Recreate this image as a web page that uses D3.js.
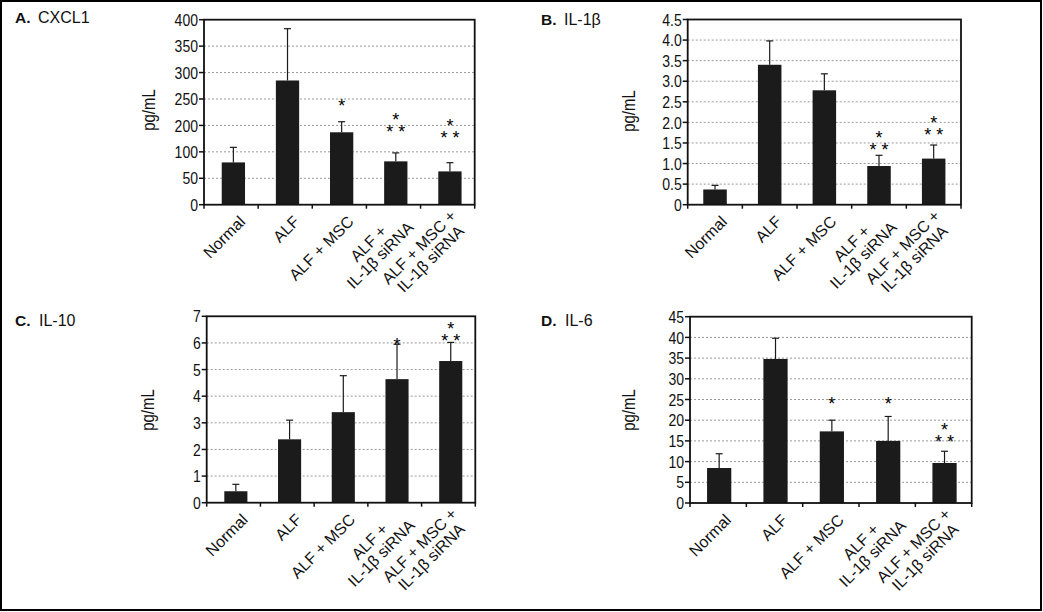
<!DOCTYPE html>
<html><head><meta charset="utf-8">
<script src="https://cdn.jsdelivr.net/npm/d3@7/dist/d3.min.js"></script>
<style>
body{margin:0;background:#fff;}
svg{display:block;font-family:"Liberation Sans",Arial,Helvetica,sans-serif;}
</style></head>
<body><svg id="c" width="1043" height="612"></svg>
<script>
// ---------- data ----------
const categories = [["Normal"],["ALF"],["ALF + MSC"],["ALF +","IL-1β siRNA"],["ALF + MSC +","IL-1β siRNA"]];

const cxcl1Mean = [80, 285, 174, 82, 63];
const cxcl1Err  = [37, 98, 33, 16, 16.5];
const cxcl1Ticks = [0, 50, 100, 200, 250, 300, 350, 400];
const cxcl1StarKind = [0, 0, 1, 2, 2];
const cxcl1StarLevel = [null, null, 245, 191, 166];

const il1bMean = [0.37, 3.40, 2.78, 0.94, 1.12];
const il1bErr  = [0.10, 0.58, 0.40, 0.26, 0.33];
const il1bTicks = [0, 0.5, 1.0, 1.5, 2.0, 2.5, 3.0, 3.5, 4.0, 4.5];
const il1bStarKind = [0, 0, 0, 2, 2];
const il1bStarLevel = [null, null, null, 1.43, 1.78];

const il10Mean = [0.43, 2.38, 3.40, 4.64, 5.32];
const il10Err  = [0.26, 0.72, 1.37, 1.31, 0.70];
const il10Ticks = [0, 1, 2, 3, 4, 5, 6, 7];
const il10StarKind = [0, 0, 0, 1, 2];
const il10StarLevel = [null, null, null, 6.09, 6.24];

const il6Mean = [8.45, 34.8, 17.3, 15.0, 9.66];
const il6Err  = [3.45, 5.0, 2.7, 5.9, 2.84];
const il6Ticks = [0, 5, 10, 15, 20, 25, 30, 35, 40, 45];
const il6StarKind = [0, 0, 1, 1, 2];
const il6StarLevel = [null, null, 24.9, 25.0, 15.6];

const panelLetters = ["A.", "B.", "C.", "D."];
const panelNames = ["CXCL1", "IL-1β", "IL-10", "IL-6"];
const yTitle = "pg/mL";

// ---------- drawing ----------
const svg = d3.select("#c");
svg.append("rect").attr("x",1).attr("y",1).attr("width",1040).attr("height",609)
  .attr("fill","none").attr("stroke","#000").attr("stroke-width",2);

const stepA = 185/7;
const panels = [
  {mean:cxcl1Mean, err:cxcl1Err, ticks:cxcl1Ticks, sk:cxcl1StarKind, sl:cxcl1StarLevel,
   L:204, R:474.7, T:19.7, B:204.7, off:2.3, fmt:d=>String(d),
   y:d3.scaleLinear().domain([0,100,200,400]).range([204.7,204.7-2*stepA,204.7-3*stepA,204.7-7*stepA]),
   title:[15,38,22.7], ylab:[150,110]},
  {mean:il1bMean, err:il1bErr, ticks:il1bTicks, sk:il1bStarKind, sl:il1bStarLevel,
   L:687.7, R:961, T:19.5, B:204.7, off:0, fmt:d=>d===0?"0":d3.format(".1f")(d),
   title:[541,564,25], ylab:[630,111]},
  {mean:il10Mean, err:il10Err, ticks:il10Ticks, sk:il10StarKind, sl:il10StarLevel,
   L:206.7, R:475.3, T:316.3, B:502.7, off:2.3, fmt:d=>String(d),
   title:[15,39,325.7], ylab:[149,410]},
  {mean:il6Mean, err:il6Err, ticks:il6Ticks, sk:il6StarKind, sl:il6StarLevel,
   L:690, R:971.7, T:316.7, B:503, off:1, fmt:d=>String(d),
   title:[541,565,325.7], ylab:[630,410]}
];

panels.forEach((p, pi) => {
  const g = svg.append("g");
  const y = p.y || d3.scaleLinear().domain([0, d3.max(p.ticks)]).range([p.B, p.T]);
  const x = d3.scaleBand().domain(d3.range(categories.length))
    .range([p.L + p.off, p.R + p.off]).paddingInner(0.57).paddingOuter(0.285);
  const xb = d3.scaleBand().domain(d3.range(categories.length)).range([p.L, p.R]);
  const top = d3.max(p.ticks);

  // grid
  g.selectAll(".grid").data(p.ticks.filter(t => t !== 0 && t !== top)).join("line")
    .attr("x1", p.L).attr("x2", p.R).attr("y1", d => y(d)).attr("y2", d => y(d))
    .attr("stroke", "#9a9a9a").attr("stroke-width", 1).attr("stroke-dasharray", "2,2");

  // bars
  g.selectAll(".bar").data(p.mean).join("rect")
    .attr("x", (d,i) => x(i)).attr("width", x.bandwidth())
    .attr("y", d => y(d)).attr("height", d => p.B - y(d)).attr("fill", "#1b1b1b");

  // error bars
  const cap = 3.5;
  p.mean.forEach((m, i) => {
    const cx = x(i) + x.bandwidth()/2;
    const yt = y(m + p.err[i]);
    g.append("line").attr("x1", cx).attr("x2", cx).attr("y1", y(m)).attr("y2", yt)
      .attr("stroke", "#1b1b1b").attr("stroke-width", 1.2);
    g.append("line").attr("x1", cx-cap).attr("x2", cx+cap).attr("y1", yt).attr("y2", yt)
      .attr("stroke", "#1b1b1b").attr("stroke-width", 1.2);
    // stars
    if (p.sk[i]) {
      const sy = y(p.sl[i]);
      const star = (sx, syy) => g.append("text").attr("x", sx).attr("y", syy + 10)
        .attr("text-anchor", "middle").attr("font-size", 18).attr("fill", "#000").text("*");
      if (p.sk[i] === 1) star(cx, sy);
      else { star(cx - 6, sy); star(cx + 6, sy); star(cx, sy - 12); }
    }
  });

  // frame
  g.append("rect").attr("x", p.L).attr("y", p.T).attr("width", p.R - p.L).attr("height", p.B - p.T)
    .attr("fill", "none").attr("stroke", "#111").attr("stroke-width", 1.8);

  // y axis ticks & labels
  g.selectAll(".yt").data(p.ticks).join("line")
    .attr("x1", p.L - 5).attr("x2", p.L).attr("y1", d => y(d)).attr("y2", d => y(d))
    .attr("stroke", "#111").attr("stroke-width", 1.5);
  g.selectAll(".yl").data(p.ticks).join("text")
    .attr("transform", d => `translate(${p.L - 6},${y(d)}) scale(0.85,1)`)
    .attr("dy", "0.37em")
    .attr("text-anchor", "end").attr("font-size", 16.5).attr("fill", "#111")
    .text(p.fmt);

  // x axis ticks
  const xt = d3.range(categories.length).map(i => xb(i)).concat([p.R]);
  g.selectAll(".xt").data(xt).join("line")
    .attr("x1", d => d).attr("x2", d => d).attr("y1", p.B).attr("y2", p.B + 4)
    .attr("stroke", "#111").attr("stroke-width", 1.5);

  // category labels
  categories.forEach((lines, i) => {
    const cx = x(i) + x.bandwidth()/2;
    const lg = g.append("g").attr("transform", `translate(${cx + 9},${p.B + 14}) rotate(-45)`);
    const tmp = lines.map((t, j) => lg.append("text")
      .attr("font-size", 16).attr("fill", "#111").text(t));
    const w = d3.max(tmp, t => t.node().getComputedTextLength());
    const lh = 16.5;
    tmp.forEach((t, j) => {
      t.attr("text-anchor", "middle").attr("x", -w/2)
       .attr("y", (j - (lines.length - 1)/2) * lh).attr("dy", "0.35em");
    });
  });

  // y title
  g.append("text")
    .attr("transform", `translate(${p.ylab[0]},${p.ylab[1]}) rotate(-90) scale(0.85,1)`)
    .attr("text-anchor", "middle").attr("dy", "0.3em").attr("font-size", 17.5).attr("fill", "#111")
    .text(yTitle);

  // panel title
  g.append("text").attr("x", p.title[0]).attr("y", p.title[2]).attr("font-size", 15.5)
    .attr("font-weight", "bold").attr("fill", "#111").text(panelLetters[pi]);
  g.append("text").attr("x", p.title[1]).attr("y", p.title[2]).attr("font-size", 16)
    .attr("fill", "#111").text(panelNames[pi]);
});
</script></body></html>
